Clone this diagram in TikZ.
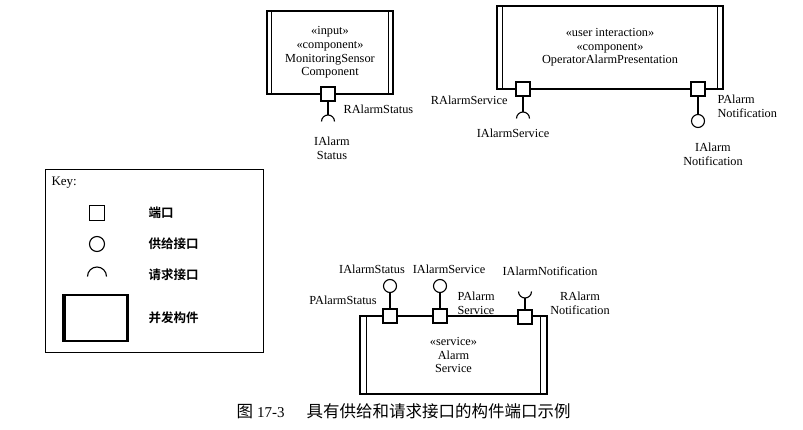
\documentclass[tikz,border=0pt]{standalone}
\usepackage{fontspec}
\setmainfont{Liberation Serif}
\newfontfamily\cjk{Noto Sans CJK SC}
\newfontfamily\cjkb{Noto Sans CJK SC Bold}
\begin{document}
\begin{tikzpicture}[x=1pt,y=1pt,line width=1.1pt,
  txt/.style={font=\fontsize{12.3}{13.7}\selectfont, inner sep=0pt, align=center},
  comp/.style={draw, rectangle, inner sep=0pt, txt},
  port/.style={draw, fill=white, rectangle, minimum size=14pt, inner sep=0pt},
  prov/.style={draw, fill=white, circle, minimum size=13pt, inner sep=0pt},
  keylbl/.style={font=\cjkb\fontsize{12.5}{12.5}\selectfont, inner sep=0pt, anchor=west},
]
\useasboundingbox (0,0) rectangle (803,429);

% ---------- MonitoringSensor component ----------
\node[comp, minimum width=126pt, minimum height=83pt] (c1) at (330,376.5)
  {«input»\\«component»\\MonitoringSensor\\Component};
\draw ([xshift=5pt]c1.north west) -- ([xshift=5pt]c1.south west);
\draw ([xshift=-5pt]c1.north east) -- ([xshift=-5pt]c1.south east);
\node[port] (p1) at (328,335) {};
\coordinate (r1) at (328,314);
\draw (p1) -- (r1);
\draw (r1) ++(-6.5,-6.5) arc[start angle=180, end angle=0, radius=6.5];
\node[txt, anchor=west] (l1) at (343,320) {RAlarmStatus};
\node[txt] (l2) at (332,280.5) {IAlarm\\Status};

% ---------- OperatorAlarmPresentation component ----------
\node[comp, minimum width=226pt, minimum height=83pt] (c2) at (610,381.5)
  {«user interaction»\\«component»\\OperatorAlarmPresentation};
\draw ([xshift=6pt]c2.north west) -- ([xshift=6pt]c2.south west);
\draw ([xshift=-6pt]c2.north east) -- ([xshift=-6pt]c2.south east);
\node[port] (p2) at (523,340) {};
\node[port] (p3) at (698,340) {};
\coordinate (r2) at (523,317);
\draw (p2) -- (r2);
\draw (r2) ++(-6.5,-6.5) arc[start angle=180, end angle=0, radius=6.5];
\node[prov] (i3) at (698,308) {};
\draw (p3) -- (i3);
\node[txt, anchor=east] (l3) at (508,329) {RAlarmService};
\node[txt] (l4) at (513,296) {IAlarmService};
\node[txt, anchor=west, align=left] (l5) at (717,323) {PAlarm\\Notification};
\node[txt] (l6) at (713,275) {IAlarm\\Notification};

% ---------- Key ----------
\node[draw, rectangle, minimum width=218pt, minimum height=182pt, inner sep=0pt, line width=1pt] (key) at (154,168) {};
\node[inner sep=0pt, anchor=west, font=\fontsize{13}{13}\selectfont] (keyt) at (51,246) {Key:};
\node[port, minimum size=15pt] (ks) at (97,216) {};
\node[prov, minimum size=15pt] (kc) at (97,185) {};
\coordinate (ka) at (97,162);
\draw (ka) ++(-9.5,-9.5) arc[start angle=180, end angle=0, radius=9.5];
\node[draw, rectangle, minimum width=65pt, minimum height=46pt, inner sep=0pt] (kb) at (95.5,111) {};
\draw ([xshift=2.5pt]kb.north west) -- ([xshift=2.5pt]kb.south west);
\draw ([xshift=-2.5pt]kb.north east) -- ([xshift=-2.5pt]kb.south east);
\node[keylbl] (k1) at (148,216) {端口};
\node[keylbl] (k2) at (148,185) {供给接口};
\node[keylbl] (k3) at (148,154) {请求接口};
\node[keylbl] (k4) at (148,111) {并发构件};

% ---------- Alarm Service component ----------
\node[comp, minimum width=187pt, minimum height=78pt] (c3) at (453.5,74)
  {«service»\\Alarm\\Service};
\draw ([xshift=7pt]c3.north west) -- ([xshift=7pt]c3.south west);
\draw ([xshift=-7pt]c3.north east) -- ([xshift=-7pt]c3.south east);
\node[port] (p4) at (390,113) {};
\node[port] (p5) at (440,113) {};
\node[port] (p6) at (525,112) {};
\node[prov] (i4) at (390,143) {};
\node[prov] (i5) at (440,143) {};
\draw (p4) -- (i4);
\draw (p5) -- (i5);
\coordinate (r6) at (525,131);
\draw (p6) -- (r6);
\draw (r6) ++(-6.5,6.5) arc[start angle=180, end angle=360, radius=6.5];
\node[txt] (l7) at (372,160) {IAlarmStatus};
\node[txt] (l8) at (449,160) {IAlarmService};
\node[txt] (l9) at (550,158) {IAlarmNotification};
\node[txt] (l10) at (343,129) {PAlarmStatus};
\node[txt, anchor=west, align=left] (l11) at (457,125.5) {PAlarm\\Service};
\node[txt] (l12) at (580,125.5) {RAlarm\\Notification};

% ---------- Caption ----------
\node[inner sep=0pt, font=\fontsize{15}{15}\selectfont] (cap) at (403.5,18)
  {{\cjk\fontsize{16.5}{16.5}\selectfont 图}\hspace{4pt}17-3\hspace{22pt}{\cjk\fontsize{16.5}{16.5}\selectfont 具有供给和请求接口的构件端口示例}};
\end{tikzpicture}
\end{document}
